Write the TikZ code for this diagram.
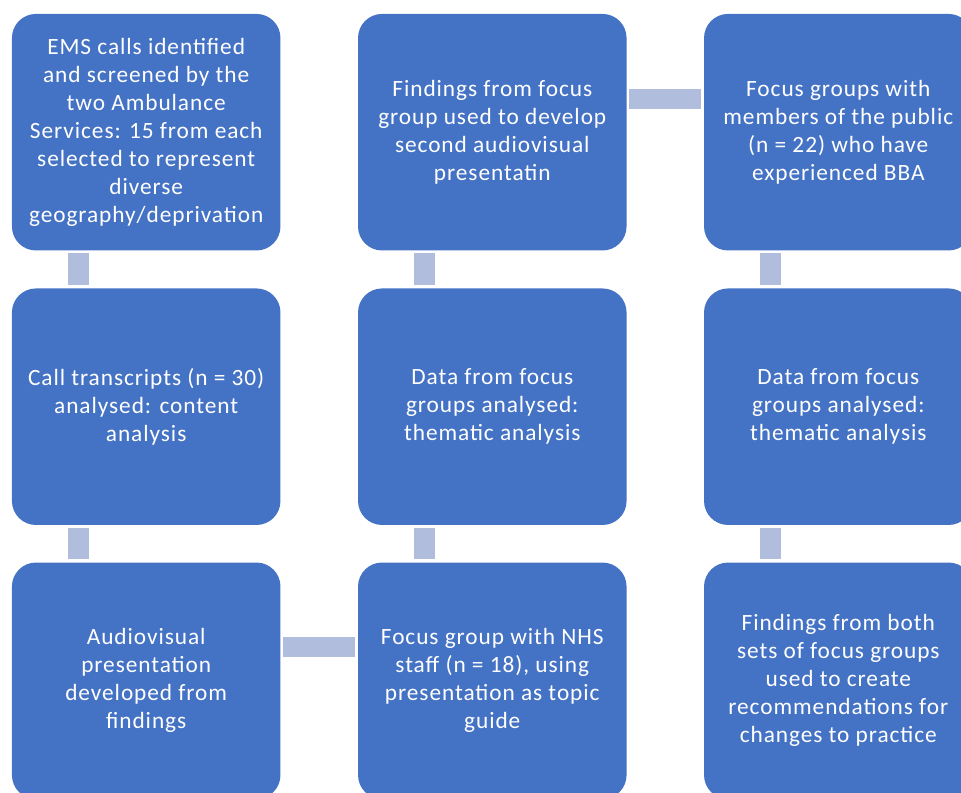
\documentclass[tikz,border=0pt]{standalone}
\usepackage{fontspec}
\setmainfont{Carlito}[LetterSpace=4]
\usetikzlibrary{calc}
\definecolor{boxblue}{HTML}{4472C4}
\definecolor{connblue}{HTML}{B0BDDD}
\tikzset{
  stepbox/.style={rectangle, rounded corners=18pt, fill=boxblue, draw=none,
    minimum width=201.4pt, minimum height=177.4pt, inner sep=0pt,
    align=center, text=white, font=\fontsize{17.5}{21}\selectfont},
  connbar/.style={fill=connblue, draw=none}
}
\begin{document}
\begin{tikzpicture}[x=0.75pt,y=-0.75pt]
\useasboundingbox (0,0) rectangle (961,793);
\clip (0,0) rectangle (961,793);
\node[stepbox] (a1) at (146.2,132.2) {EMS calls identified\\and screened by the\\two Ambulance\\Services: 15 from each\\selected to represent\\diverse\\geography/deprivation};
\node[stepbox] (a2) at (146.2,406.7) {Call transcripts (n = 30)\\analysed: content\\analysis};
\node[stepbox] (a3) at (146.2,680.8) {Audiovisual\\presentation\\developed from\\findings};
\node[stepbox] (b1) at (492.3,132.2) {Findings from focus\\group used to develop\\second audiovisual\\presentatin};
\node[stepbox] (b2) at (492.3,406.7) {Data from focus\\groups analysed:\\thematic analysis};
\node[stepbox] (b3) at (492.3,680.8) {Focus group with NHS\\staff (n = 18), using\\presentation as topic\\guide};
\node[stepbox] (c1) at (838.3,132.2) {Focus groups with\\members of the public\\(n = 22) who have\\experienced BBA};
\node[stepbox] (c2) at (838.3,406.7) {Data from focus\\groups analysed:\\thematic analysis};
\node[stepbox] (c3) at (838.3,680.8) {Findings from both\\sets of focus groups\\used to create\\recommendations for\\changes to practice};
% vertical connectors
\fill[connbar] ($(a1.south west)+(56.3,2.5)$) rectangle ($(a2.north west)+(77.3,-3)$);
\fill[connbar] ($(a2.south west)+(56.3,2.5)$) rectangle ($(a3.north west)+(77.3,-3)$);
\fill[connbar] ($(b3.north west)+(56.3,-3)$) rectangle ($(b2.south west)+(77.3,2.5)$);
\fill[connbar] ($(b2.north west)+(56.3,-3)$) rectangle ($(b1.south west)+(77.3,2.5)$);
\fill[connbar] ($(c1.south west)+(56.3,2.5)$) rectangle ($(c2.north west)+(77.3,-3)$);
\fill[connbar] ($(c2.south west)+(56.3,2.5)$) rectangle ($(c3.north west)+(77.3,-3)$);
% horizontal connectors
\fill[connbar] ($(a3.north east)+(2.2,74.7)$) rectangle ($(b3.north west)+(-2.3,94.4)$);
\fill[connbar] ($(b1.north east)+(2.3,75)$) rectangle ($(c1.north west)+(-2.3,95)$);
\end{tikzpicture}
\end{document}
